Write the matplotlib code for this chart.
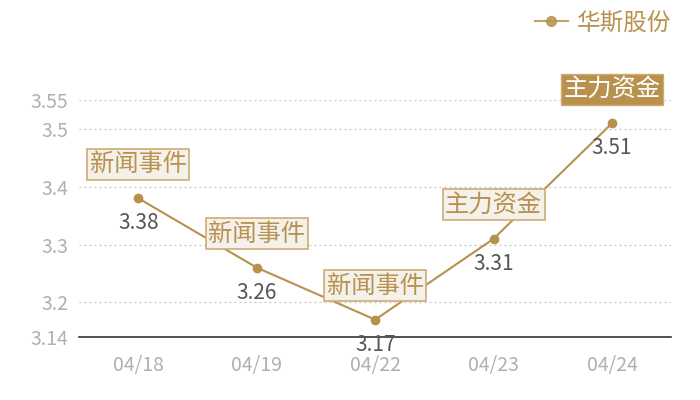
import matplotlib
matplotlib.use("Agg")
import matplotlib.pyplot as plt
from matplotlib.lines import Line2D

plt.rcParams['font.family'] = ['Noto Sans CJK SC', 'DejaVu Sans']

dates = ["04/18", "04/19", "04/22", "04/23", "04/24"]
prices = [3.38, 3.26, 3.17, 3.31, 3.51]
events = ["新闻事件", "新闻事件", "新闻事件", "主力资金", "主力资金"]
highlight = [False, False, False, False, True]
yticks = [3.14, 3.2, 3.3, 3.4, 3.5, 3.55]
series_name = "华斯股份"

GOLD = "#b8914f"
BORDER = "#cfac74"
FILL = "#f4f0ea"

fig = plt.figure(figsize=(7, 4), dpi=100)
ax = fig.add_axes([0.113, 0.1575, 0.846, 0.5925])

x = list(range(len(dates)))
ax.plot(x, prices, color=GOLD, lw=1.5, marker='o', ms=6, zorder=3)

ax.set_xlim(-0.5, len(dates) - 0.5)
ax.set_ylim(3.14, 3.55)
ax.set_yticks(yticks)
ax.set_yticklabels([f"{v:g}" for v in yticks])
ax.set_xticks(x)
ax.set_xticklabels(dates)
ax.tick_params(axis='both', length=0, colors="#b0b0b0", labelsize=14)
ax.tick_params(axis='x', pad=13)
ax.tick_params(axis='y', pad=8)

for v in yticks[1:]:
    ax.axhline(v, color="#c4c4c4", lw=0.9, ls=(0, (1.5, 2.5)), zorder=1)

for s in ["left", "right", "top"]:
    ax.spines[s].set_visible(False)
ax.spines["bottom"].set_color("#333333")
ax.spines["bottom"].set_linewidth(1.2)

for xi, p, ev, hl in zip(x, prices, events, highlight):
    ax.annotate(f"{p:.2f}", (xi, p), xytext=(0, -10), textcoords="offset points",
                ha="center", va="top", fontsize=15, color="#555555", zorder=5)
    if hl:
        bbox = dict(boxstyle="square,pad=0.1", fc=GOLD, ec=BORDER, lw=1)
        tc = "white"
    else:
        bbox = dict(boxstyle="square,pad=0.1", fc=FILL, ec=BORDER, lw=1.2)
        tc = GOLD
    ax.annotate(ev, (xi, p), xytext=(0, 24.5), textcoords="offset points",
                ha="center", va="center", fontsize=17.5, color=tc, bbox=bbox, zorder=6)

handle = Line2D([], [], color=GOLD, lw=1.5, marker='o', ms=7, alpha=0.85)
leg = fig.legend([handle], [series_name], loc="upper right", bbox_to_anchor=(0.99, 1.025),
                 frameon=False, fontsize=17, handlelength=1.4, handletextpad=0.4)
for t in leg.get_texts():
    t.set_color(GOLD)

fig.savefig("out.png", dpi=100)
